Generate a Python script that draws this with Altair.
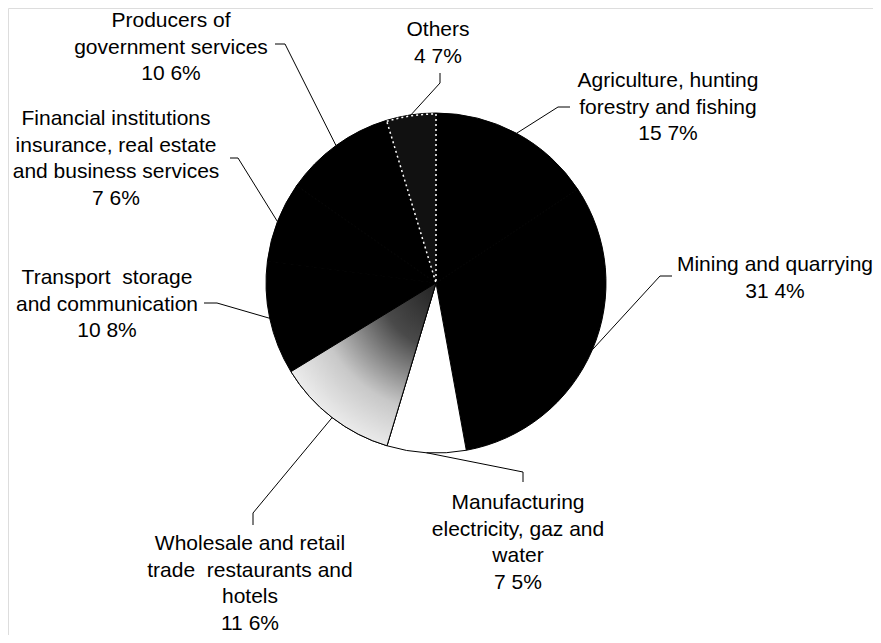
import numpy as np
import pandas as pd
import altair as alt

# ---- data ----
categories = [
    "Agriculture, hunting forestry and fishing",
    "Mining and quarrying",
    "Manufacturing electricity, gaz and water",
    "Wholesale and retail trade restaurants and hotels",
    "Transport storage and communication",
    "Financial institutions insurance, real estate and business services",
    "Producers of government services",
    "Others",
]
values = [15.7, 31.4, 7.5, 11.6, 10.8, 7.6, 10.6, 4.7]
label_names = [
    "Agriculture, hunting\nforestry and fishing",
    "Mining and quarrying",
    "Manufacturing\nelectricity, gaz and\nwater",
    "Wholesale and retail\ntrade\u00a0 restaurants and\nhotels",
    "Transport\u00a0 storage\nand communication",
    "Financial institutions\ninsurance, real estate\nand business services",
    "Producers of\ngovernment services",
    "Others",
]

# ---- styling / layout (plot coordinates, page minus 8px margin) ----
fills = ["#000000", "#000000", "#ffffff", "#9a9a9a", "#000000", "#000000", "#000000", "#111111"]
CX, CY, R = 428, 275, 170
label_x = [660, 767, 510, 242, 99, 108, 163, 430]
label_y = [72, 256, 494, 535, 269, 110, 12, 21]   # centre of first line
elbow1 = [(550, 99), (652, 268), (515, 464), (245, 505), (209, 295), (230, 150), (277, 36), (432, 75)]
elbow2 = [(562, 99), (664, 268), (515, 474), (245, 517), (196, 295), (222, 150), (267, 36), (432, 65)]

total = float(np.sum(values))
vals = np.array(values)
cum = np.cumsum(vals)
mid = (cum - vals / 2) / total * 2 * np.pi

df = pd.DataFrame({"cat": categories, "value": values, "idx": range(len(values))})

lead_rows = []
for i in range(len(values)):
    ex = CX + R * np.sin(mid[i])
    ey = CY - R * np.cos(mid[i])
    pts = [(ex, ey), elbow1[i], elbow2[i]]
    for k, (px, py) in enumerate(pts):
        lead_rows.append({"cat": categories[i], "k": k, "px": px, "py": py})
lead = pd.DataFrame(lead_rows)

txt = pd.DataFrame({
    "cat": categories,
    "label": [f"{n}\n{v:.1f}".replace(".", " ") + "%" for n, v in zip(label_names, values)],
    "px": label_x,
    "py": [y + 7 for y in label_y],
})

theta_scale = alt.Scale(domain=[0, total], range=[0, 2 * np.pi])

base = (
    alt.Chart(df)
    .transform_window(cum="sum(value)", sort=[{"field": "idx"}], frame=[None, 0])
    .transform_calculate(start="datum.cum - datum.value")
)

arcs = base.mark_arc(outerRadius=R, stroke="black", strokeWidth=1).encode(
    theta=alt.Theta("start:Q", scale=theta_scale),
    theta2="cum:Q",
    fill=alt.Fill("cat:N", scale=alt.Scale(domain=categories, range=fills), legend=None),
    x=alt.value(CX),
    y=alt.value(CY),
)

grad = {
    "gradient": "radial",
    "x1": 1, "y1": 0, "r1": 0,
    "x2": 1, "y2": 0, "r2": 1.15,
    "stops": [
        {"offset": 0.0, "color": "#1e1e1e"},
        {"offset": 0.35, "color": "#4a4a4a"},
        {"offset": 0.7, "color": "#c8c8c8"},
        {"offset": 1.0, "color": "#f4f4f4"},
    ],
}
wholesale = base.transform_filter(alt.datum.idx == 3).mark_arc(
    outerRadius=R, stroke="black", strokeWidth=1, fill=grad
).encode(
    theta=alt.Theta("start:Q", scale=theta_scale),
    theta2="cum:Q",
    x=alt.value(CX),
    y=alt.value(CY),
)

others = base.transform_filter(alt.datum.idx == 7).mark_arc(
    outerRadius=R - 1, stroke="white", strokeWidth=1.5, strokeDash=[2, 3], fill="#111111"
).encode(
    theta=alt.Theta("start:Q", scale=theta_scale),
    theta2="cum:Q",
    x=alt.value(CX),
    y=alt.value(CY),
)

lines = alt.Chart(lead).mark_line(color="black", strokeWidth=1).encode(
    x=alt.X("px:Q", scale=None, axis=None),
    y=alt.Y("py:Q", scale=None, axis=None),
    detail="cat:N",
    order="k:O",
)

texts = alt.Chart(txt).mark_text(
    font="Liberation Sans", fontSize=21, lineBreak="\n", lineHeight=26.5,
    align="center", baseline="alphabetic", color="black",
).encode(
    x=alt.X("px:Q", scale=None, axis=None),
    y=alt.Y("py:Q", scale=None, axis=None),
    text="label:N",
)

chart = (
    alt.layer(arcs, wholesale, others, lines, texts)
    .properties(width=865, height=627, padding=0, autosize=alt.AutoSizeParams(type="none"))
    .configure_view(stroke=None)
    .configure(background="white")
)

chart.save("out.html", embed_options={"renderer": "svg", "actions": False})
